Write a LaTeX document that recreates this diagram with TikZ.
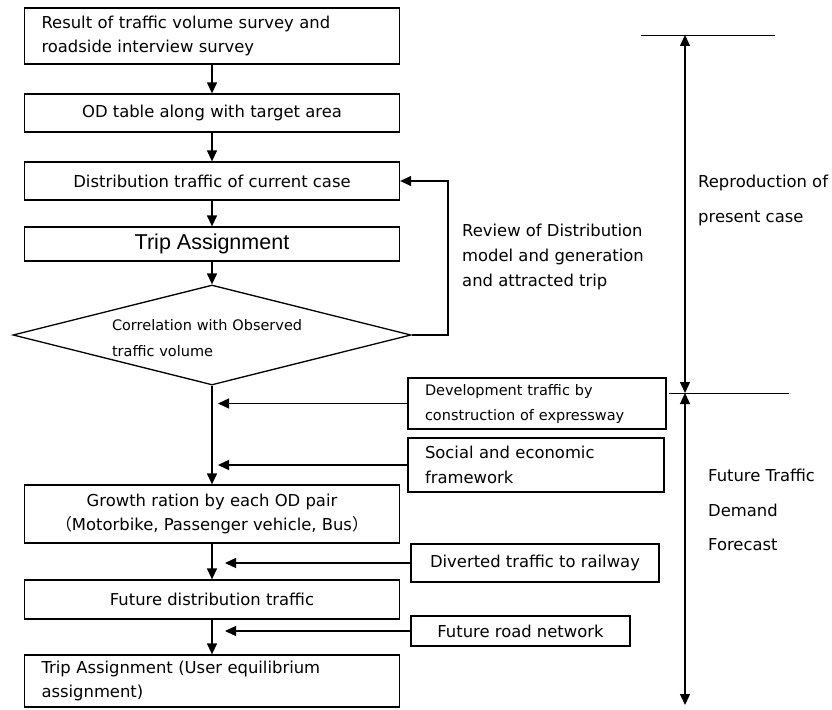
\documentclass[tikz,border=0pt]{standalone}
\usepackage{fontspec}
\setmainfont{DejaVu Sans}
\newfontfamily\arialfont{Liberation Sans}
\newfontfamily\cjkfont{Noto Sans CJK JP}
\usetikzlibrary{arrows.meta,shapes.geometric}
\begin{document}
\begin{tikzpicture}[x=1pt,y=-1pt,
  box/.style={draw, line width=1.3pt, inner sep=0pt, font=\fontsize{16.4}{24.5}\selectfont},
  sbox/.style={draw, line width=1.3pt, inner sep=0pt, font=\fontsize{14.5}{25}\selectfont},
  lbl/.style={inner sep=0pt, anchor=west, align=left},
  arr/.style={line width=1.3pt, -{Triangle[length=11pt,width=10pt]}},
  darr/.style={line width=1.3pt, {Triangle[length=11pt,width=10pt]}-{Triangle[length=11pt,width=10pt]}},
  thin/.style={line width=0.8pt}]
\useasboundingbox (0,0) rectangle (832,709);
% main column
\node[box, minimum width=375pt, minimum height=56pt, text width=341pt, align=left] (b1) at (212,36)
  {Result of traffic volume survey and\\roadside interview survey};
\node[box, minimum width=375pt, minimum height=38pt] (b2) at (212,113) {OD table along with target area};
\node[box, minimum width=375pt, minimum height=38pt] (b3) at (212,181) {Distribution traffic of current case};
\node[box, minimum width=375pt, minimum height=34pt, font=\arialfont\fontsize{21.5}{24}\selectfont] (b4) at (212,244) {Trip Assignment};
\node[draw, shape=diamond, line width=1.3pt, inner sep=0pt, minimum width=398pt, minimum height=100pt] (dia) at (212,335) {};
\node[inner sep=0pt, text width=198pt, align=left, font=\fontsize{14.5}{26}\selectfont] (diat) at (211,338)
  {Correlation with Observed\\traffic volume};
\node[box, minimum width=375pt, minimum height=58pt, align=center] (b5) at (212,514)
  {Growth ration by each OD pair\\{\cjkfont （}Motorbike, Passenger vehicle, Bus{\cjkfont ）}};
\node[box, minimum width=375pt, minimum height=39pt] (b6) at (212,599.5) {Future distribution traffic};
\node[box, minimum width=375pt, minimum height=52pt, text width=341pt, align=left] (b7) at (212,681)
  {Trip Assignment (User equilibrium\\assignment)};
% side inputs
\node[sbox, minimum width=258pt, minimum height=51pt, text width=224pt, align=left] (dev) at (537,403.5)
  {Development traffic by\\construction of expressway};
\node[box, minimum width=256pt, minimum height=54pt, text width=222pt, align=left] (soc) at (536,465)
  {Social and economic\\framework};
\node[box, minimum width=248pt, minimum height=38pt] (div) at (535,563) {Diverted traffic to railway};
\node[box, minimum width=219pt, minimum height=30pt] (road) at (520.5,631) {Future road network};
% main arrows
\draw[arr] (b1) -- (b2);
\draw[arr] (b2) -- (b3);
\draw[arr] (b3) -- (b4);
\draw[arr] (b4) -- (dia.north);
\draw[arr] (dia.south) -- (b5.north);
\draw[arr] (b5) -- (b6);
\draw[arr] (b6) -- (b7);
% feedback
\coordinate (fb) at (448,335);
\draw[arr] (dia.east) -- (fb) |- (b3.east);
\node[lbl, font=\fontsize{16.4}{25}\selectfont] (rev) at (462,257)
  {Review of Distribution\\model and generation\\and attracted trip};
% side arrows
\coordinate (e1) at (218,403.5);
\coordinate (e2) at (218,465);
\coordinate (e3) at (225,563);
\coordinate (e4) at (225,631);
\draw[arr] (dev.west) -- (e1);
\draw[arr] (soc.west) -- (e2);
\draw[arr] (div.west) -- (e3);
\draw[arr] (road.west) -- (e4);
% right scale
\coordinate (h1a) at (641,35);
\coordinate (h1b) at (775,35);
\coordinate (h2a) at (669,393);
\coordinate (h2b) at (789,393);
\coordinate (v1) at (685,35);
\coordinate (v2) at (685,393);
\coordinate (v3) at (685,705);
\draw[thin] (h1a) -- (h1b);
\draw[thin] (h2a) -- (h2b);
\draw[darr] (v1) -- (v2);
\draw[darr] (v2) -- (v3);
\node[lbl, font=\fontsize{16.4}{35}\selectfont] (rep) at (698,200) {Reproduction of\\present case};
\node[lbl, font=\fontsize{16.4}{34.5}\selectfont] (fut) at (708,510) {Future Traffic\\Demand\\Forecast};
\end{tikzpicture}
\end{document}
